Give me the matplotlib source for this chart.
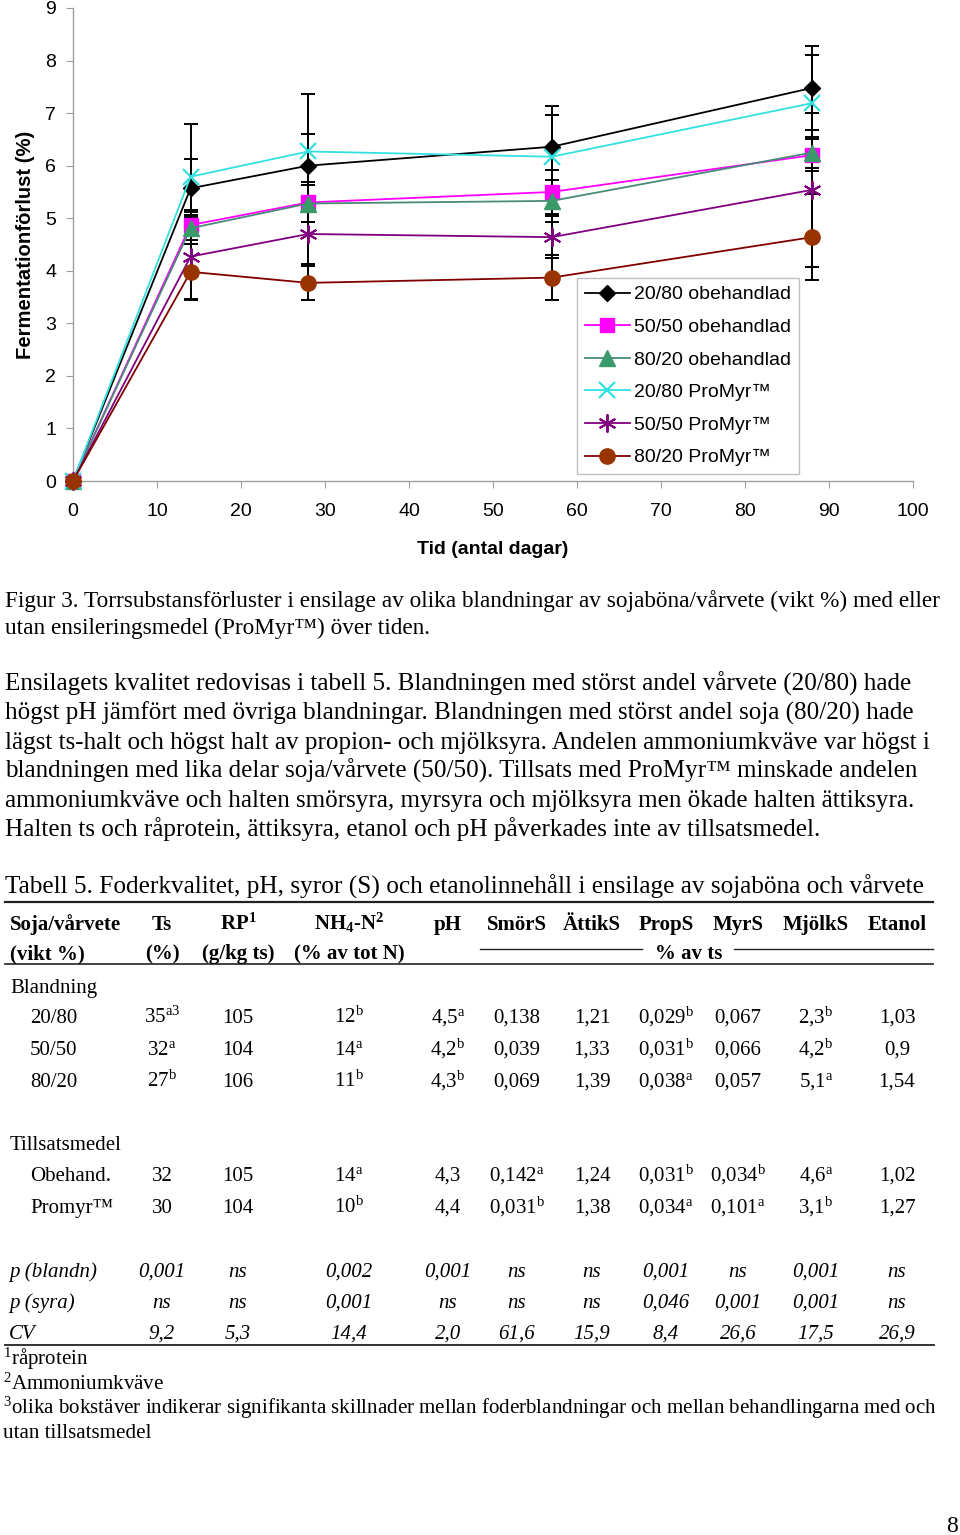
import matplotlib
matplotlib.use("Agg")
import matplotlib.pyplot as plt
from matplotlib.lines import Line2D

plt.rcParams['mathtext.fontset'] = 'custom'
plt.rcParams['mathtext.rm'] = 'Liberation Serif'
plt.rcParams['mathtext.it'] = 'Liberation Serif:italic'
plt.rcParams['mathtext.bf'] = 'Liberation Serif:bold'

# --- chart data (days, fermentation loss %) ---
days = [0, 14, 28, 57, 88]
obeh_2080 = [0, 5.57, 6.00, 6.36, 7.48]
obeh_5050 = [0, 4.87, 5.30, 5.50, 6.20]
obeh_8020 = [0, 4.81, 5.28, 5.33, 6.25]
pro_2080 = [0, 5.79, 6.27, 6.17, 7.19]
pro_5050 = [0, 4.27, 4.70, 4.64, 5.54]
pro_8020 = [0, 3.98, 3.77, 3.87, 4.64]

err_obeh_2080 = [0, 0.55, 0.60, 0.78, 0.80]
err_obeh_5050 = [0, 0.29, 0.38, 0.42, 0.30]
err_obeh_8020 = [0, 0.30, 0.35, 0.40, 0.30]
err_pro_2080 = [0, 1.00, 1.09, 0.79, 0.92]
err_pro_5050 = [0, 0.80, 0.57, 0.40, 1.46]
err_pro_8020 = [0, 0.53, 0.33, 0.43, 0.82]

labels = ['20/80 obehandlad', '50/50 obehandlad', '80/20 obehandlad',
          '20/80 ProMyr™', '50/50 ProMyr™', '80/20 ProMyr™']

# --- table data ---
col_names = ['Ts', 'RP$^{\\mathbf{1}}$', 'NH$_{\\mathbf{4}}$-N$^{\\mathbf{2}}$', 'pH',
             'SmörS', 'ÄttikS', 'PropS', 'MyrS', 'MjölkS', 'Etanol']
col_units = ['(%)', '(g/kg ts)', '(% av tot N)', '', '', '', '', '', '', '']
row_2080 = ['35^a3', '105', '12^b', '4,5^a', '0,138', '1,21', '0,029^b', '0,067', '2,3^b', '1,03']
row_5050 = ['32^a', '104', '14^a', '4,2^b', '0,039', '1,33', '0,031^b', '0,066', '4,2^b', '0,9']
row_8020 = ['27^b', '106', '11^b', '4,3^b', '0,069', '1,39', '0,038^a', '0,057', '5,1^a', '1,54']
row_obeh = ['32', '105', '14^a', '4,3', '0,142^a', '1,24', '0,031^b', '0,034^b', '4,6^a', '1,02']
row_promyr = ['30', '104', '10^b', '4,4', '0,031^b', '1,38', '0,034^a', '0,101^a', '3,1^b', '1,27']
p_blandn = ['0,001', 'ns', '0,002', '0,001', 'ns', 'ns', '0,001', 'ns', '0,001', 'ns']
p_syra = ['ns', 'ns', '0,001', 'ns', 'ns', 'ns', '0,046', '0,001', '0,001', 'ns']
cv = ['9,2', '5,3', '14,4', '2,0', '61,6', '15,9', '8,4', '26,6', '17,5', '26,9']

caption = ["Figur 3. Torrsubstansförluster i ensilage av olika blandningar av sojaböna/vårvete (vikt %) med eller",
           "utan ensileringsmedel (ProMyr™) över tiden."]
paragraph = ["Ensilagets kvalitet redovisas i tabell 5. Blandningen med störst andel vårvete (20/80) hade",
             "högst pH jämfört med övriga blandningar. Blandningen med störst andel soja (80/20) hade",
             "lägst ts-halt och högst halt av propion- och mjölksyra. Andelen ammoniumkväve var högst i",
             "blandningen med lika delar soja/vårvete (50/50). Tillsats med ProMyr™ minskade andelen",
             "ammoniumkväve och halten smörsyra, myrsyra och mjölksyra men ökade halten ättiksyra.",
             "Halten ts och råprotein, ättiksyra, etanol och pH påverkades inte av tillsatsmedel."]

W, H = 960, 1535
fig = plt.figure(figsize=(W / 100, H / 100), dpi=100)

def put(x, y, s, **kw):
    kw.setdefault('family', 'Liberation Serif')
    kw.setdefault('fontsize', 15)
    kw.setdefault('va', 'baseline')
    fig.text(x / W, 1 - y / H, s, **kw)

def hline(x0, x1, y, lw=1.0):
    fig.add_artist(Line2D([x0 / W, x1 / W], [1 - y / H, 1 - y / H],
                          transform=fig.transFigure, color='#222222', lw=lw))

# ---------------- chart ----------------
ax = fig.add_axes([73 / W, 1 - 481 / H, 840 / W, 473 / H])
series = [obeh_2080, obeh_5050, obeh_8020, pro_2080, pro_5050, pro_8020]
errs = [err_obeh_2080, err_obeh_5050, err_obeh_8020, err_pro_2080, err_pro_5050, err_pro_8020]
styles = [
    dict(color='black', marker='D', ms=8.5, mfc='black', mec='black'),
    dict(color='#ff00ff', marker='s', ms=10, mfc='#ff00ff', mec='#ff00ff'),
    dict(color='#4a8a78', marker='^', ms=11, mfc='#3a9a6a', mec='#3a9a6a'),
    dict(color='#33e0e0', marker='x', ms=11, mew=1.6, mfc='#33e0e0', mec='#33e0e0'),
    dict(color='#800080', marker=(6, 2, 0), ms=13, mew=1.4, mfc='#800080', mec='#800080'),
    dict(color='#800000', marker='o', ms=11, mfc='#993300', mec='#993300'),
]
for ys, e in zip(series, errs):
    ax.errorbar(days, ys, yerr=e, fmt='none', ecolor='black', elinewidth=1.4,
                capsize=5, capthick=1.4, errorevery=(1, 1), zorder=2)
for ys, st, lab in zip(series, styles, labels):
    ax.plot(days, ys, lw=1.3, label=lab, zorder=3, clip_on=False, **st)

ax.set_xlim(0, 100)
ax.set_ylim(0, 9)
ax.set_xticks(range(0, 101, 10))
ax.set_yticks(range(0, 10))
for sp in ['top', 'right']:
    ax.spines[sp].set_visible(False)
for sp in ['left', 'bottom']:
    ax.spines[sp].set_color('#a0a0a0')
    ax.spines[sp].set_linewidth(1.0)
ax.tick_params(axis='both', colors='#a0a0a0', labelcolor='black', length=5,
               labelsize=14, labelfontfamily='Liberation Sans')
ax.tick_params(axis='x', pad=11)
ax.tick_params(axis='y', pad=7)
ax.set_xlabel('Tid (antal dagar)', family='Liberation Sans', fontsize=14, fontweight='bold')
ax.set_ylabel('Fermentationförlust (%)', family='Liberation Sans', fontsize=14.6, fontweight='bold')
ax.xaxis.set_label_coords(0.5, -0.127)
ax.yaxis.set_label_coords(-0.045, 0.5)

leg = ax.legend(loc='upper left', bbox_to_anchor=(577 / W, 1 - 278 / H),
                bbox_transform=fig.transFigure, borderaxespad=0, frameon=True,
                fancybox=False, edgecolor='#b0b0b0', handlelength=2.3,
                handletextpad=0.25, labelspacing=0.77, borderpad=0.4,
                prop={'family': 'Liberation Sans', 'size': 14})
leg.get_frame().set_linewidth(1.0)

# ---------------- text ----------------
for i, line in enumerate(caption):
    put(5, 607 + 27 * i, line, fontsize=16.75)
for i, line in enumerate(paragraph):
    put(5, 691 + 29 * i, line, fontsize=18.1)

put(5, 894, 'Tabell 5. Foderkvalitet, pH, syror (S) och etanolinnehåll i ensilage av sojaböna och vårvete',
    fontsize=18.2)

# ---------------- table ----------------
col_x = [162, 238, 349, 448, 517, 592, 666, 738, 816, 897]
hline(5, 933, 902, lw=1.6)
put(10, 930, 'Soja/vårvete', fontweight='bold')
put(10, 959, '(vikt %)', fontweight='bold')
for x, name, unit in zip(col_x, col_names, col_units):
    put(x, 930, name, fontweight='bold', ha='center')
    if unit:
        put(x, 959, unit, fontweight='bold', ha='center')
put(689, 959, '% av ts', fontweight='bold', ha='center')
hline(480, 642, 949, lw=1.0)
hline(734, 933, 949, lw=1.0)
hline(5, 933, 964, lw=1.2)

def cell(s):
    if '^' in s:
        base, sup = s.split('^')
        return base + '$^{\\mathrm{' + sup + '}}$'
    return s

def row(y, label, vals, lx=30, italic=False):
    st = 'italic' if italic else 'normal'
    put(lx, y, label, style=st)
    for x, v in zip(col_x, vals):
        txt = v if italic else cell(v)
        put(x, y, txt, ha='center', style=st)

put(10, 993, 'Blandning')
row(1023, '20/80', row_2080)
row(1055, '50/50', row_5050)
row(1087, '80/20', row_8020)
put(10, 1150, 'Tillsatsmedel')
row(1181, 'Obehand.', row_obeh)
row(1213, 'Promyr™', row_promyr)
row(1277, 'p (blandn)', p_blandn, lx=9, italic=True)
row(1308, 'p (syra)', p_syra, lx=9, italic=True)
row(1339, 'CV', cv, lx=9, italic=True)
hline(5, 934, 1345, lw=1.3)

put(3, 1365, '$^{1}$råprotein', fontsize=15.1)
put(3, 1390, '$^{2}$Ammoniumkväve', fontsize=15.1)
put(3, 1414, '$^{3}$olika bokstäver indikerar signifikanta skillnader mellan foderblandningar och mellan behandlingarna med och',
    fontsize=15.1)
put(3, 1438, 'utan tillsatsmedel', fontsize=15.1)
put(952, 1532, '8', fontsize=17, ha='center')

fig.savefig('out.png', dpi=100)
